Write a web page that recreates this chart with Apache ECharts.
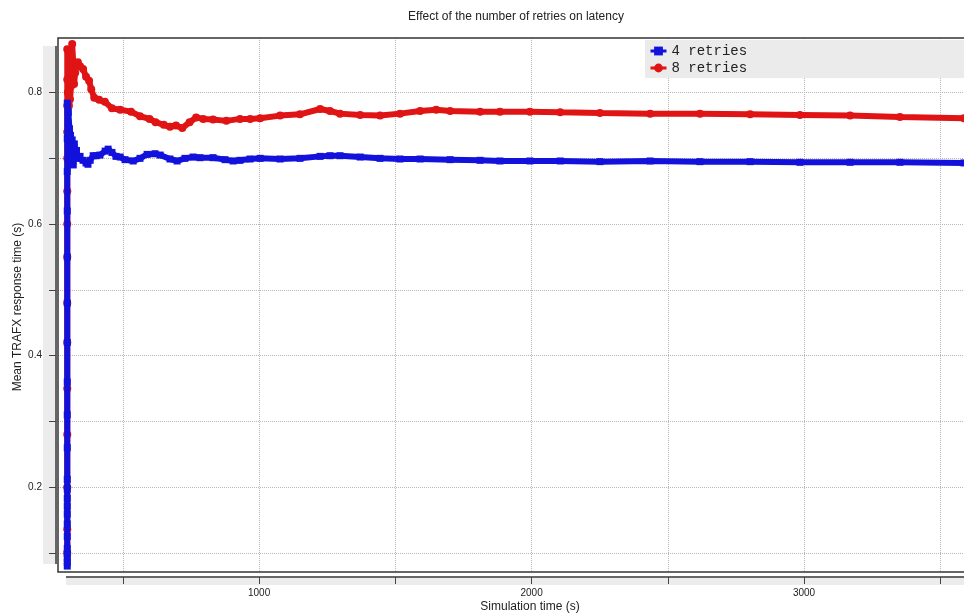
<!DOCTYPE html>
<html>
<head>
<meta charset="utf-8">
<script src="https://cdn.jsdelivr.net/npm/echarts@6/dist/echarts.min.js"></script>
<style>
  html, body { margin: 0; padding: 0; background: #fff; }
  #chart { width: 964px; height: 616px; }
</style>
</head>
<body>
<div id="chart"></div>
<script>
// Axis ticks and labels
const xTickValues = [500, 1000, 1500, 2000, 2500, 3000, 3500];
const xLabelValues = [1000, 2000, 3000];
const yTickValues = [0.1, 0.2, 0.3, 0.4, 0.5, 0.6, 0.7, 0.8];
const yLabelValues = [0.2, 0.4, 0.6, 0.8];

// Series names
const seriesNames = ['4 retries', '8 retries'];

// Running mean of the TRAFX response time, 4 retries
const time4 = [
  296, 296, 296, 296, 296, 296, 296, 296, 296, 296, 296, 296, 296, 296, 296, 296, 296, 296, 296, 296, 296, 296,
  300, 304, 308, 311, 314, 318, 322, 326, 330, 336, 343, 354, 365, 372, 380, 391, 402, 416, 435, 446, 460, 475,
  490, 508, 538, 563, 589, 618, 637, 673, 699, 728, 758, 783, 831, 875, 905, 930, 967, 1004, 1077, 1150, 1224,
  1260, 1297, 1371, 1444, 1517, 1591, 1701, 1811, 1884, 1994, 2105, 2251, 2435, 2618, 2802, 2985, 3169, 3352,
  3587, 3630
];
const mean4 = [
  0.080, 0.086, 0.092, 0.099, 0.107, 0.125, 0.144, 0.159, 0.171, 0.183, 0.197, 0.212, 0.26, 0.31, 0.36, 0.42,
  0.48, 0.55, 0.62, 0.68, 0.73, 0.784,
  0.770, 0.745, 0.735, 0.700, 0.728, 0.690, 0.722, 0.705, 0.712, 0.700, 0.703, 0.697, 0.693, 0.691, 0.697, 0.704,
  0.704, 0.705, 0.711, 0.714, 0.709, 0.703, 0.702, 0.698, 0.696, 0.700, 0.706, 0.707, 0.705, 0.699, 0.696, 0.700,
  0.702, 0.701, 0.701, 0.698, 0.696, 0.697, 0.699, 0.700, 0.699, 0.700, 0.703, 0.704, 0.704, 0.702, 0.700, 0.699,
  0.699, 0.698, 0.697, 0.696, 0.696, 0.696, 0.695, 0.696, 0.695, 0.695, 0.694, 0.694, 0.694, 0.693, 0.693
];

// Running mean of the TRAFX response time, 8 retries
const time8 = [
  296, 296, 296, 296, 296, 296, 296, 296, 296, 296, 296, 296, 296, 296, 296,
  298, 302, 306, 310, 314, 318, 321, 325, 329, 335, 343, 354, 365, 376, 384, 395, 413, 434, 460, 490, 530, 563,
  598, 620, 650, 673, 695, 718, 745, 769, 795, 831, 880, 930, 967, 1004, 1077, 1150, 1224, 1260, 1297, 1371,
  1444, 1517, 1591, 1650, 1701, 1811, 1884, 1994, 2105, 2251, 2435, 2618, 2802, 2985, 3169, 3352, 3587, 3630
];
const mean8 = [
  0.10, 0.136, 0.20, 0.28, 0.35, 0.42, 0.48, 0.55, 0.60, 0.65, 0.70, 0.74, 0.78, 0.82, 0.866,
  0.800, 0.780, 0.790, 0.810, 0.874, 0.845, 0.813, 0.830, 0.844, 0.846, 0.840, 0.836, 0.824, 0.818, 0.805, 0.792,
  0.789, 0.786, 0.776, 0.774, 0.771, 0.764, 0.760, 0.755, 0.751, 0.748, 0.750, 0.746, 0.755, 0.762, 0.760, 0.759,
  0.757, 0.760, 0.760, 0.761, 0.765, 0.767, 0.775, 0.772, 0.768, 0.766, 0.765, 0.768, 0.772, 0.774, 0.772, 0.771,
  0.771, 0.771, 0.770, 0.769, 0.768, 0.768, 0.767, 0.766, 0.765, 0.763, 0.761, 0.760
];

const zip = (xs, ys) => xs.map((x, i) => [x, ys[i]]);

const SANS = 'Liberation Sans, Arial, sans-serif';
const MONO = 'Liberation Mono, monospace';
const BAND = '#ececec';
const FRAME = '#333';

const chart = echarts.init(document.getElementById('chart'), null, { renderer: 'canvas' });

chart.setOption({
  animation: false,
  backgroundColor: '#ffffff',
  // plot area: 58..964 px wide, 38..572 px tall; the right edge runs off the page
  grid: { left: 58, top: 38, bottom: 44, right: 0, show: false },
  legend: {
    data: seriesNames,
    orient: 'vertical',
    left: 645, top: 40,
    backgroundColor: '#ebebeb',
    padding: [4, 400, 3, 4],
    itemGap: 3,
    itemWidth: 16, itemHeight: 11,
    lineStyle: { width: 3 },
    selectedMode: false,
    textStyle: { fontFamily: MONO, fontSize: 14, color: '#222' }
  },
  xAxis: {
    type: 'value',
    min: 262, max: 3587,
    offset: 5,
    axisLine: { show: false },
    axisTick: { show: true, customValues: xTickValues, length: 7, lineStyle: { color: '#444', width: 1 } },
    axisLabel: { customValues: xLabelValues, fontFamily: SANS, fontSize: 10, color: '#222', margin: 11,
      formatter: v => String(v) },
    splitLine: { show: true, lineStyle: { type: 'dotted', color: '#b8b8b8', width: 1 } }
  },
  yAxis: {
    type: 'value',
    min: 0.071, max: 0.883,
    offset: 2,
    axisLine: { show: false },
    axisTick: { show: true, customValues: yTickValues, length: 7, lineStyle: { color: '#444', width: 1 } },
    axisLabel: { customValues: yLabelValues, fontFamily: SANS, fontSize: 10, color: '#222', margin: 14,
      formatter: v => v.toFixed(1) },
    splitLine: { show: true, lineStyle: { type: 'dotted', color: '#b8b8b8', width: 1 } }
  },
  series: [
    {
      name: seriesNames[0], type: 'line', z: 3,
      data: zip(time4, mean4),
      symbol: 'rect', symbolSize: 7, showAllSymbol: true,
      itemStyle: { color: '#1212dc' },
      lineStyle: { color: '#1212dc', width: 6 }
    },
    {
      name: seriesNames[1], type: 'line', z: 2,
      data: zip(time8, mean8),
      symbol: 'circle', symbolSize: 8, showAllSymbol: true,
      itemStyle: { color: '#e01414' },
      lineStyle: { color: '#e01414', width: 6 }
    }
  ],
  graphic: [
    // axis bands and axis lines
    { type: 'rect', z: -1, shape: { x: 43, y: 46, width: 13, height: 518 }, style: { fill: BAND } },
    { type: 'rect', z: -1, shape: { x: 66, y: 577, width: 900, height: 8 }, style: { fill: BAND } },
    { type: 'line', shape: { x1: 56, y1: 46, x2: 56, y2: 564 }, style: { stroke: '#666', lineWidth: 2 } },
    { type: 'line', shape: { x1: 66, y1: 577, x2: 966, y2: 577 }, style: { stroke: '#666', lineWidth: 2 } },
    // plot frame: top, left and bottom edges
    { type: 'polyline', z: 10, shape: { points: [[966, 38], [58, 38], [58, 572], [966, 572]] },
      style: { stroke: FRAME, lineWidth: 1.5, fill: null } },
    // titles
    { type: 'text', x: 516, y: 17, style: { text: 'Effect of the number of retries on latency',
      font: '12px ' + SANS, fill: '#222', textAlign: 'center', textVerticalAlign: 'middle' } },
    { type: 'text', x: 530, y: 607, style: { text: 'Simulation time (s)',
      font: '12px ' + SANS, fill: '#222', textAlign: 'center', textVerticalAlign: 'middle' } },
    { type: 'text', x: 18, y: 307, rotation: Math.PI / 2, style: { text: 'Mean TRAFX response time (s)',
      font: '12px ' + SANS, fill: '#222', textAlign: 'center', textVerticalAlign: 'middle' } }
  ]
});
</script>
</body>
</html>
